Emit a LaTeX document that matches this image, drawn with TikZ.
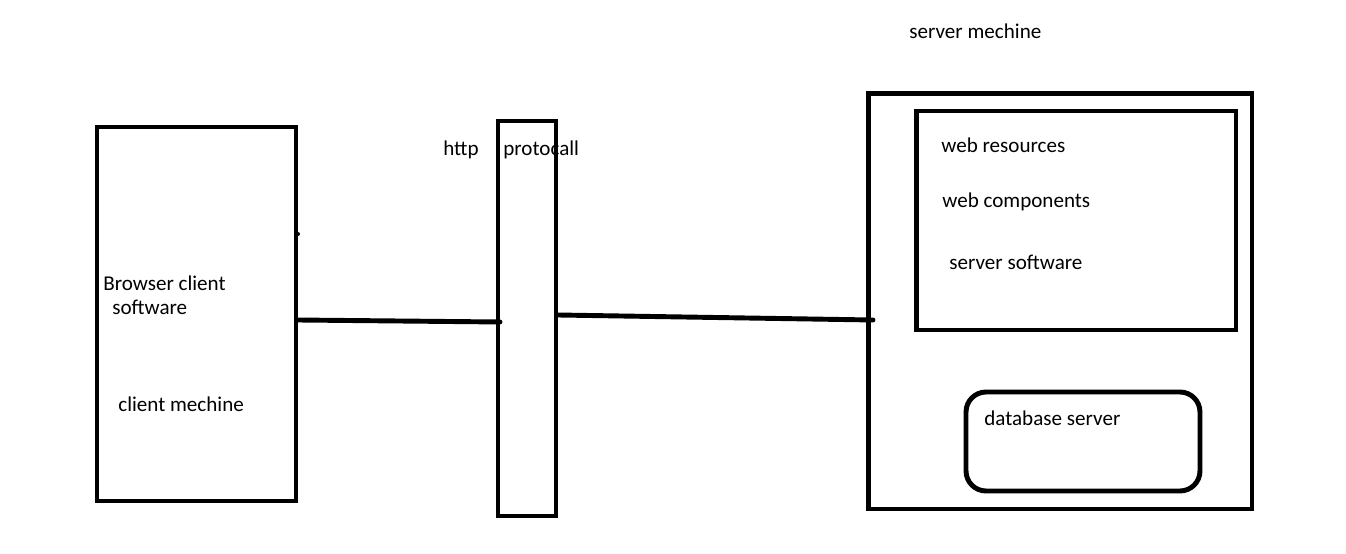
\documentclass[tikz,border=0pt]{standalone}
\usepackage{fontspec}
\setmainfont{Carlito}
\tikzset{
  box/.style={draw, line width=2.8pt, inner sep=0pt},
  wire/.style={line width=2.8pt, line cap=round},
  lbl/.style={anchor=base west, inner sep=0pt, font=\fontsize{12}{14}\selectfont}
}
\begin{document}
\begin{tikzpicture}[x=0.02cm, y=-0.02cm]
    \useasboundingbox (0,0) rectangle (1346,554);

    % Client side
    \node[box, minimum width=3.98cm, minimum height=7.48cm] (client) at (196.5,314) {};
    \fill (298,234) circle (2);
    \node[lbl] (browser) at (103,290) {Browser client};
    \node[lbl] (browsersw) at (112,314) {software};
    \node[lbl] (clientlbl) at (118,411.5) {client mechine};

    % Protocol
    \node[box, minimum width=1.16cm, minimum height=7.9cm] (proto) at (527,318.5) {};
    \node[lbl] (http) at (443,155) {http};
    \node[lbl] (protolbl) at (503,155) {protocall};

    % Server side
    \node[lbl] (serverlbl) at (909,39) {server mechine};
    \node[box, minimum width=7.68cm, minimum height=8.32cm] (server) at (1060,301) {};
    \node[box, minimum width=6.4cm, minimum height=4.38cm] (software) at (1076,220.5) {};
    \node[lbl] (res) at (941,152.5) {web resources};
    \node[lbl] (comp) at (942,207.5) {web components};
    \node[lbl] (srvsw) at (949,269) {server software};
    \node[box, rounded corners=0.4cm, minimum width=4.68cm, minimum height=1.98cm] (db) at (1083,441.5) {};
    \node[lbl] (dblbl) at (984,425) {database server};

    % Connections
    \coordinate (tapP) at (500,322);
    \coordinate (tapS) at (873,320);
    \draw[wire] (client.east |- 0,320) -- (tapP);
    \draw[wire] (proto.east |- 0,315) -- (tapS);
\end{tikzpicture}
\end{document}
